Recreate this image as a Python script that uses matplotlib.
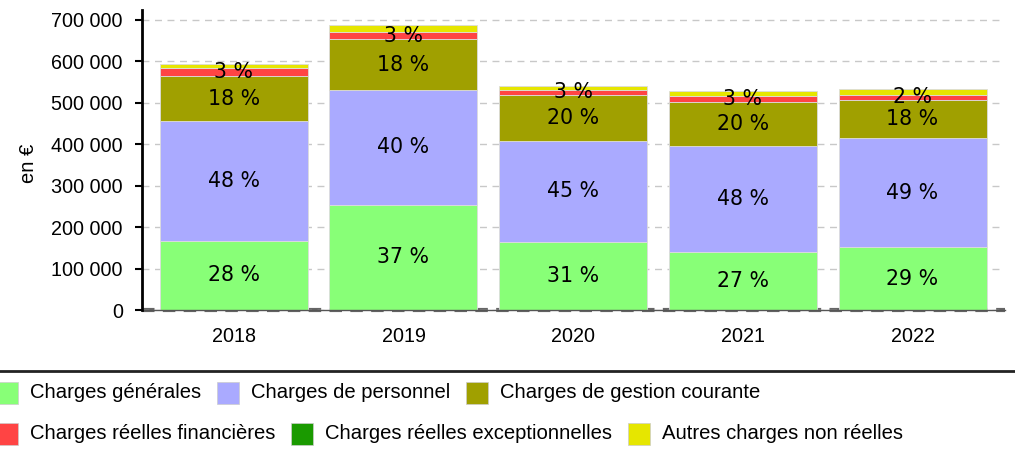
import matplotlib.pyplot as plt
from matplotlib.patches import Rectangle
from matplotlib.ticker import FuncFormatter
import numpy as np

years = ["2018", "2019", "2020", "2021", "2022"]

# values in euros
generales = [167000, 254000, 165000, 141000, 151000]
personnel = [288000, 277000, 244000, 254000, 263000]
gestion = [109000, 122000, 109000, 108000, 94000]
financieres = [20000, 18000, 14000, 14000, 12000]
exceptionnelles = [0, 0, 0, 0, 0]
autres = [10000, 16000, 8000, 12000, 14000]

# percentage labels printed in the bars (None = no label)
pct_generales = ["28 %", "37 %", "31 %", "27 %", "29 %"]
pct_personnel = ["48 %", "40 %", "45 %", "48 %", "49 %"]
pct_gestion = ["18 %", "18 %", "20 %", "20 %", "18 %"]
pct_financieres = ["3 %", "3 %", "3 %", "3 %", "2 %"]

series = [
    ("Charges générales", generales, "#88ff77", pct_generales),
    ("Charges de personnel", personnel, "#aaaaff", pct_personnel),
    ("Charges de gestion courante", gestion, "#a0a000", pct_gestion),
    ("Charges réelles financières", financieres, "#ff4444", pct_financieres),
    ("Charges réelles exceptionnelles", exceptionnelles, "#1a9a00", None),
    ("Autres charges non réelles", autres, "#e6e600", None),
]

W, H = 1015, 454
fig = plt.figure(figsize=(W / 100, H / 100), dpi=100)
ax = fig.add_axes([142.3 / W, 1 - 310 / H, (1005 - 142.3) / W, 300 / H])

x = np.arange(len(years))
bottom = np.zeros(len(years))
for name, vals, col, labels in series:
    vals = np.array(vals, dtype=float)
    ax.bar(x, vals, 0.872, bottom=bottom, color=col, edgecolor="#dcdcdc",
           linewidth=0.6, zorder=2)
    if labels is not None:
        for i in range(len(years)):
            if labels[i]:
                ax.text(x[i], bottom[i] + vals[i] / 2, labels[i], ha="center",
                        va="center", fontsize=14.8, family="DejaVu Sans",
                        color="black", zorder=4)
    bottom += vals

ax.set_xlim(-0.539, 4.545)
ax.set_ylim(0, 724000)
ax.set_yticks(np.arange(0, 700001, 100000))
ax.yaxis.set_major_formatter(FuncFormatter(lambda v, p: f"{int(v):,}".replace(",", " ")))
ax.set_xticks(x)
ax.set_xticklabels(years)
ax.grid(axis="y", color="#c8c8c8", linestyle=(0, (5, 4)), linewidth=1, zorder=0)
ax.axhline(0, color="#666666", linestyle=(0, (3, 2)), linewidth=3, zorder=1,
           clip_on=False)
ax.axhline(0, color="#555555", linewidth=1, zorder=3, clip_on=False)

for s in ["top", "right", "bottom"]:
    ax.spines[s].set_visible(False)
ax.spines["left"].set_linewidth(2)
ax.spines["left"].set_zorder(5)
ax.tick_params(axis="y", length=5, width=1.5, pad=9, labelsize=14.2)
ax.tick_params(axis="x", length=0, pad=12, labelsize=14.2)
for lab in ax.get_xticklabels() + ax.get_yticklabels():
    lab.set_family("Liberation Sans")

fig.text(28 / W, 1 - 163 / H, "en €", rotation=90, ha="center", va="center",
         fontsize=14.5, family="Liberation Sans")

# separator line above the legend
fig.add_artist(plt.Line2D([0, 1], [1 - 371 / H, 1 - 371 / H], color="#222222",
                          linewidth=2, transform=fig.transFigure))

# legend, laid out in two rows like the original
fig.canvas.draw()
renderer = fig.canvas.get_renderer()
rows = [(series[:3], 393), (series[3:], 433.5)]
for items, yc in rows:
    xp = -4
    for name, vals, col, labels in items:
        fig.add_artist(Rectangle((xp / W, (H - yc - 11) / H), 22 / W, 22 / H,
                                 facecolor=col, edgecolor="#cccccc", linewidth=0.5,
                                 transform=fig.transFigure))
        t = fig.text((xp + 34) / W, 1 - yc / H, name, ha="left", va="center",
                     fontsize=14.6, family="Liberation Sans")
        bb = t.get_window_extent(renderer)
        xp = bb.x1 + 16

fig.savefig("out.png", dpi=100)
